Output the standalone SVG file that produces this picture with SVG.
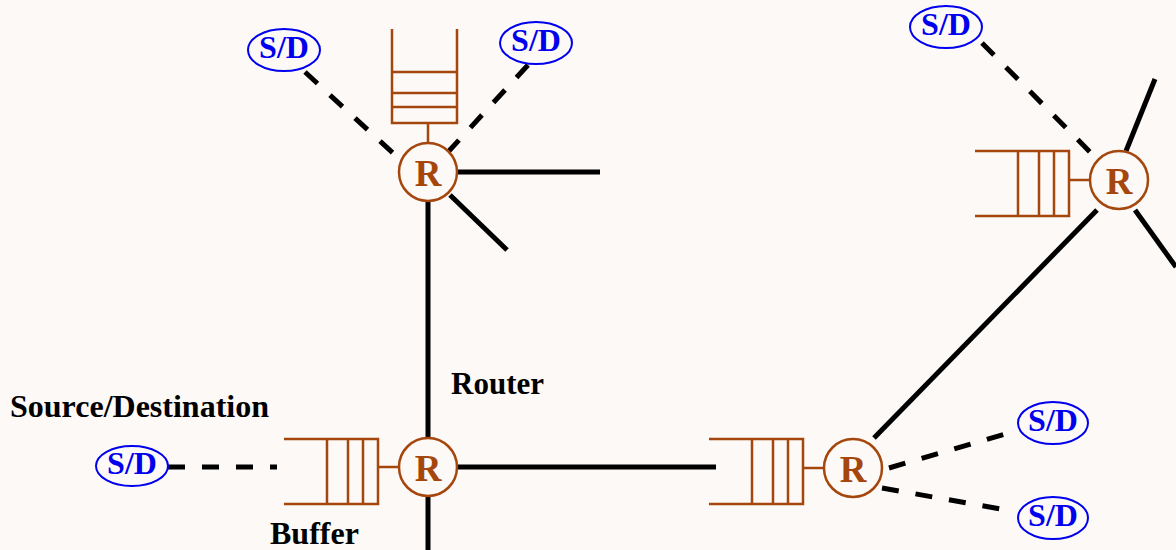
<svg xmlns="http://www.w3.org/2000/svg" width="1176" height="550" viewBox="0 0 1176 550">
<style>
.bg{fill:#fdf9f7}
.link{stroke:#000;stroke-width:5;fill:none}
.dash{stroke:#000;stroke-width:5;fill:none;stroke-dasharray:17 17}
.rc{fill:#fdf9f7;stroke:#a5470d;stroke-width:2.5}
.q{fill:none;stroke:#a5470d;stroke-width:2.5}
.rt{font-family:"Liberation Serif",serif;font-weight:bold;font-size:37px;fill:#a5470d;text-anchor:middle}
.sd{fill:#fdf9f7;stroke:#0000ee;stroke-width:2}
.sdt{font-family:"Liberation Serif",serif;font-weight:bold;font-size:32px;fill:#0000ee;text-anchor:middle}
.lbl{font-family:"Liberation Serif",serif;font-weight:bold;font-size:32px;fill:#000}
</style>
<rect class="bg" x="0" y="0" width="1176" height="550"/>
<g id="connectors">
<line class="dash" x1="305" y1="72" x2="394" y2="154"/>
<line class="dash" x1="528" y1="65" x2="448" y2="152"/>
<line class="link" x1="457" y1="172" x2="600" y2="172"/>
<line class="link" x1="450" y1="195" x2="507" y2="250"/>
<line class="link" x1="428" y1="201" x2="428" y2="439"/>
<line class="link" x1="428" y1="497" x2="428" y2="550"/>
<line class="link" x1="457" y1="467" x2="716" y2="467"/>
<line class="dash" x1="168" y1="467" x2="277" y2="467"/>
<line class="dash" x1="982" y1="43" x2="1092" y2="154"/>
<line class="link" x1="1126" y1="151" x2="1155" y2="79"/>
<line class="link" x1="1135" y1="210" x2="1176" y2="267"/>
<line class="link" x1="1097" y1="210" x2="874" y2="438"/>
<line class="dash" x1="889" y1="468" x2="1005" y2="434"/>
<line class="dash" x1="882" y1="488" x2="1001" y2="509"/>
</g>
<g id="router-top">
<path class="q" d="M392,29 V123 H457 V29 M392,72 H457 M392,93 H457 M392,107 H457 M428,123 V144"/>
<circle class="rc" cx="428" cy="172" r="29"/>
<text class="rt" x="428" y="186">R</text>
</g>
<g id="router-topright">
<path class="q" d="M975,151 H1069 V216 H975 M1018,151 V216 M1039,151 V216 M1054,151 V216 M1069,180 H1090"/>
<circle class="rc" cx="1119" cy="180" r="29"/>
<text class="rt" x="1119" y="194">R</text>
</g>
<g id="router-bottomleft">
<path class="q" d="M284,439 H378 V504 H284 M327,439 V504 M348,439 V504 M363,439 V504 M378,467 H399"/>
<circle class="rc" cx="428" cy="467" r="29"/>
<text class="rt" x="428" y="481">R</text>
</g>
<g id="router-bottomright">
<path class="q" d="M709,439 H803 V504 H709 M752,439 V504 M773,439 V504 M788,439 V504 M803,468 H824"/>
<circle class="rc" cx="853" cy="468" r="29"/>
<text class="rt" x="853" y="482">R</text>
</g>
<g id="sd-topleft">
<ellipse class="sd" cx="284" cy="50" rx="36" ry="21"/>
<text class="sdt" x="284" y="58">S/D</text>
</g>
<g id="sd-topmid">
<ellipse class="sd" cx="536" cy="43" rx="36" ry="21"/>
<text class="sdt" x="536" y="51">S/D</text>
</g>
<g id="sd-topright">
<ellipse class="sd" cx="946" cy="27" rx="36" ry="21"/>
<text class="sdt" x="946" y="35">S/D</text>
</g>
<g id="sd-left">
<ellipse class="sd" cx="132" cy="466" rx="36" ry="20"/>
<text class="sdt" x="132" y="474">S/D</text>
</g>
<g id="sd-right-upper">
<ellipse class="sd" cx="1053" cy="423" rx="35" ry="21"/>
<text class="sdt" x="1053" y="431">S/D</text>
</g>
<g id="sd-right-lower">
<ellipse class="sd" cx="1053" cy="518" rx="35" ry="21"/>
<text class="sdt" x="1053" y="526">S/D</text>
</g>
<g id="labels">
<text class="lbl" x="10" y="417">Source/Destination</text>
<text class="lbl" x="451" y="394" style="font-size:31px">Router</text>
<text class="lbl" x="270" y="544">Buffer</text>
</g>
</svg>
